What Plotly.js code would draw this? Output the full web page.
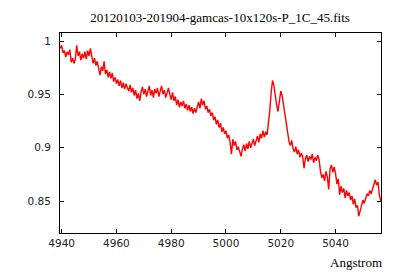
<!DOCTYPE html>
<html>
<head>
<meta charset="utf-8">
<script src="https://cdn.plot.ly/plotly-3.0.1.min.js"></script>
<style>html,body{margin:0;padding:0;background:#fff;}#chart{width:400px;height:280px;}</style>
</head>
<body>
<div id="chart"></div>
<script>
// Spectrum sampled on a uniform wavelength grid (FITS-like header values)
const lambdaStart = 4939.5;   // Angstrom, first sample
const lambdaStep = 0.5;       // Angstrom per sample
const titleText = "20120103-201904-gamcas-10x120s-P_1C_45.fits";
const xLabel = "Angstrom";
const xTicks = [4940, 4960, 4980, 5000, 5020, 5040];
const yTicks = [0.85, 0.9, 0.95, 1];
const flux = [
  0.993, 0.996, 0.989, 0.991, 0.985, 0.990, 0.987, 0.992, 0.980, 0.984,
  0.979, 0.983, 0.996, 0.986, 0.990, 0.982, 0.988, 0.984, 0.990, 0.983,
  0.991, 0.986, 0.993, 0.984, 0.979, 0.984, 0.977, 0.981, 0.974, 0.968,
  0.976, 0.972, 0.981, 0.969, 0.973, 0.966, 0.971, 0.965, 0.970, 0.962,
  0.966, 0.960, 0.964, 0.958, 0.963, 0.956, 0.961, 0.955, 0.960, 0.957,
  0.953, 0.959, 0.952, 0.956, 0.949, 0.954, 0.946, 0.951, 0.944, 0.952,
  0.957, 0.950, 0.955, 0.948, 0.953, 0.958, 0.949, 0.954, 0.947, 0.955,
  0.951, 0.956, 0.948, 0.953, 0.958, 0.950, 0.954, 0.947, 0.952, 0.956,
  0.950, 0.945, 0.952, 0.944, 0.948, 0.940, 0.945, 0.938, 0.943, 0.939,
  0.944, 0.937, 0.941, 0.935, 0.940, 0.934, 0.938, 0.932, 0.937, 0.933,
  0.938, 0.943, 0.937, 0.946, 0.940, 0.944, 0.936, 0.939, 0.933, 0.936,
  0.930, 0.933, 0.926, 0.929, 0.922, 0.926, 0.919, 0.923, 0.915, 0.919,
  0.913, 0.916, 0.909, 0.912, 0.905, 0.894, 0.908, 0.902, 0.906, 0.898,
  0.901, 0.895, 0.892, 0.899, 0.903, 0.897, 0.904, 0.899, 0.906, 0.900,
  0.904, 0.908, 0.902, 0.907, 0.911, 0.905, 0.913, 0.909, 0.916, 0.910,
  0.915, 0.912, 0.922, 0.935, 0.952, 0.963, 0.958, 0.948, 0.940, 0.934,
  0.944, 0.953, 0.949, 0.940, 0.930, 0.920, 0.912, 0.906, 0.902, 0.907,
  0.899, 0.896, 0.901, 0.894, 0.898, 0.891, 0.895, 0.892, 0.881, 0.890,
  0.893, 0.887, 0.892, 0.889, 0.894, 0.886, 0.891, 0.888, 0.893, 0.889,
  0.878, 0.872, 0.875, 0.869, 0.878, 0.873, 0.861, 0.880, 0.884, 0.877,
  0.882, 0.876, 0.866, 0.871, 0.856, 0.864, 0.858, 0.862, 0.853, 0.860,
  0.855, 0.858, 0.851, 0.855, 0.847, 0.852, 0.844, 0.846, 0.836, 0.842,
  0.846, 0.851, 0.848, 0.853, 0.857, 0.855, 0.860, 0.857, 0.862, 0.866,
  0.870, 0.865, 0.868, 0.856, 0.850
];

const axisCommon = {
  showline: true, linecolor: '#000', linewidth: 1, mirror: 'ticks',
  ticks: 'inside', ticklen: 4, tickcolor: '#000', tickwidth: 1,
  showgrid: false, zeroline: false,
  tickfont: {family: 'DejaVu Sans', size: 10.5, color: '#222'}
};

const trace = {
  type: 'scatter', mode: 'lines',
  x0: lambdaStart, dx: lambdaStep, y: flux,
  line: {color: '#ff0000', width: 1.4},
  hoverinfo: 'skip'
};

const layout = {
  width: 400, height: 280,
  margin: {l: 59.5, r: 19, t: 33, b: 47},
  paper_bgcolor: '#fff', plot_bgcolor: '#fff',
  showlegend: false,
  title: {text: titleText, font: {family: 'Liberation Serif', size: 13, color: '#000'},
          x: 0.55, xanchor: 'center', y: 1 - 17/280, yanchor: 'middle'},
  xaxis: Object.assign({}, axisCommon, {
    range: [4939.4, 5056.6], tickmode: 'array', tickvals: xTicks,
    ticktext: xTicks.map(String)
  }),
  yaxis: Object.assign({}, axisCommon, {
    range: [0.8202, 1.0075], tickmode: 'array', tickvals: yTicks,
    ticktext: yTicks.map(String), ticklabelstandoff: 6
  }),
  annotations: [{
    text: xLabel, xref: 'paper', yref: 'paper', x: 1.01, y: 0,
    xanchor: 'right', yanchor: 'middle', yshift: -29, showarrow: false,
    font: {family: 'Liberation Serif', size: 13, color: '#000'}
  }]
};

Plotly.newPlot('chart', [trace], layout, {staticPlot: true, displayModeBar: false});
</script>
</body>
</html>
